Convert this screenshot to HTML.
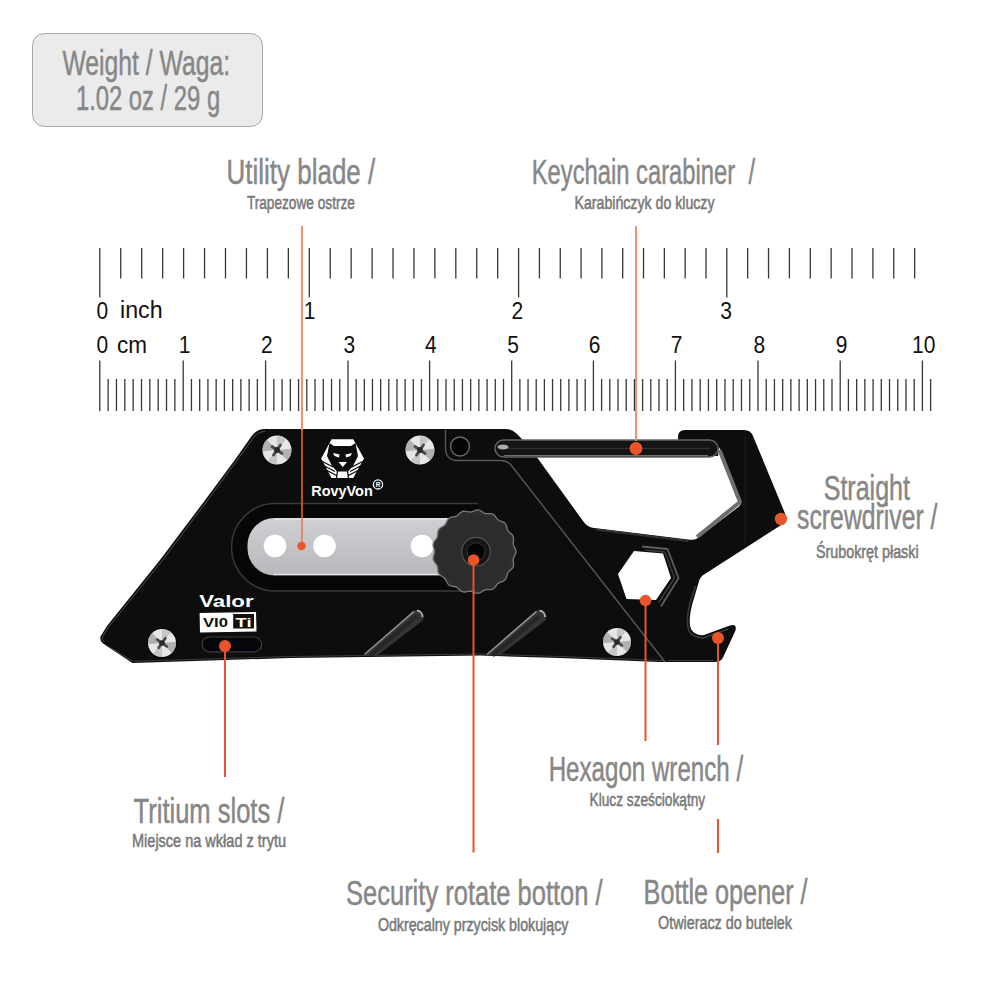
<!DOCTYPE html>
<html><head><meta charset="utf-8"><style>
html,body{margin:0;padding:0;background:#fff;width:1000px;height:1000px;overflow:hidden}
svg{display:block}
text{font-family:"Liberation Sans", sans-serif}
</style></head><body>
<svg width="1000" height="1000" viewBox="0 0 1000 1000">
<rect x="32.5" y="33.5" width="230" height="93" rx="12" ry="12" fill="#ebebeb" stroke="#a6a6a6" stroke-width="1"/>
<text x="62.4" y="74.6" font-size="35" fill="#878787" stroke="#878787" stroke-width="0.5" font-weight="normal" textLength="167.6" lengthAdjust="spacingAndGlyphs" >Weight / Waga:</text>
<text x="75.9" y="109.7" font-size="35" fill="#878787" stroke="#878787" stroke-width="0.5" font-weight="normal" textLength="144.29999999999998" lengthAdjust="spacingAndGlyphs" >1.02 oz / 29 g</text>
<text x="226.6" y="184.2" font-size="34.5" fill="#878787" stroke="#878787" stroke-width="0.5" font-weight="normal" textLength="148.6" lengthAdjust="spacingAndGlyphs" >Utility blade /</text>
<text x="246.9" y="209.4" font-size="19" fill="#787878" stroke="#787878" stroke-width="0.55" font-weight="normal" textLength="107.99999999999997" lengthAdjust="spacingAndGlyphs" >Trapezowe ostrze</text>
<text x="531.75" y="184.25" font-size="34.5" fill="#878787" stroke="#878787" stroke-width="0.5" font-weight="normal" textLength="223.25" lengthAdjust="spacingAndGlyphs" xml:space="preserve">Keychain carabiner&#160;&#160;/</text>
<text x="574.5" y="209.25" font-size="19" fill="#787878" stroke="#787878" stroke-width="0.55" font-weight="normal" textLength="140.0" lengthAdjust="spacingAndGlyphs" >Karabińczyk do kluczy</text>
<text x="823.7" y="500.2" font-size="34.5" fill="#878787" stroke="#878787" stroke-width="0.5" font-weight="normal" textLength="86.29999999999995" lengthAdjust="spacingAndGlyphs" >Straight</text>
<text x="797.1" y="529.4" font-size="34.5" fill="#878787" stroke="#878787" stroke-width="0.5" font-weight="normal" textLength="140.39999999999998" lengthAdjust="spacingAndGlyphs" >screwdriver /</text>
<text x="816" y="558.2" font-size="19" fill="#787878" stroke="#787878" stroke-width="0.55" font-weight="normal" textLength="102.60000000000002" lengthAdjust="spacingAndGlyphs" >Śrubokręt płaski</text>
<text x="548.7" y="781.3" font-size="34.5" fill="#878787" stroke="#878787" stroke-width="0.5" font-weight="normal" textLength="194.39999999999998" lengthAdjust="spacingAndGlyphs" >Hexagon wrench /</text>
<text x="589.5" y="806" font-size="19" fill="#787878" stroke="#787878" stroke-width="0.55" font-weight="normal" textLength="115.70000000000005" lengthAdjust="spacingAndGlyphs" >Klucz sześciokątny</text>
<text x="133.6" y="823" font-size="34.5" fill="#878787" stroke="#878787" stroke-width="0.5" font-weight="normal" textLength="150.79999999999998" lengthAdjust="spacingAndGlyphs" >Tritium slots /</text>
<text x="132" y="847" font-size="19" fill="#787878" stroke="#787878" stroke-width="0.55" font-weight="normal" textLength="154" lengthAdjust="spacingAndGlyphs" >Miejsce na wkład z trytu</text>
<text x="346" y="905" font-size="34.5" fill="#878787" stroke="#878787" stroke-width="0.5" font-weight="normal" textLength="256.6" lengthAdjust="spacingAndGlyphs" >Security rotate botton /</text>
<text x="377.9" y="931" font-size="19" fill="#787878" stroke="#787878" stroke-width="0.55" font-weight="normal" textLength="190.5" lengthAdjust="spacingAndGlyphs" >Odkręcalny przycisk blokujący</text>
<text x="643.6" y="904" font-size="34.5" fill="#878787" stroke="#878787" stroke-width="0.5" font-weight="normal" textLength="164.0" lengthAdjust="spacingAndGlyphs" >Bottle opener /</text>
<text x="658" y="929" font-size="19" fill="#787878" stroke="#787878" stroke-width="0.55" font-weight="normal" textLength="134" lengthAdjust="spacingAndGlyphs" >Otwieracz do butelek</text>
<path d="M99.80 248V297.5 M120.75 248V278.5 M141.70 248V278.5 M162.65 248V278.5 M183.60 248V278.5 M204.55 248V278.5 M225.50 248V278.5 M246.45 248V278.5 M267.40 248V278.5 M288.35 248V278.5 M309.30 248V297.5 M330.23 248V278.5 M351.16 248V278.5 M372.09 248V278.5 M393.02 248V278.5 M413.95 248V278.5 M434.88 248V278.5 M455.81 248V278.5 M476.74 248V278.5 M497.67 248V278.5 M518.60 248V297.5 M539.42 248V278.5 M560.24 248V278.5 M581.06 248V278.5 M601.88 248V278.5 M622.70 248V278.5 M643.52 248V278.5 M664.34 248V278.5 M685.16 248V278.5 M705.98 248V278.5 M726.80 248V297.5 M747.67 248V278.5 M768.54 248V278.5 M789.41 248V278.5 M810.28 248V278.5 M831.15 248V278.5 M852.02 248V278.5 M872.89 248V278.5 M893.76 248V278.5 M914.63 248V278.5 M99.80 360.5V411 M108.14 379V411 M116.48 379V411 M124.82 379V411 M133.16 379V411 M141.50 379V411 M149.84 379V411 M158.18 379V411 M166.52 379V411 M174.86 379V411 M183.20 360.5V411 M191.44 379V411 M199.68 379V411 M207.92 379V411 M216.16 379V411 M224.40 379V411 M232.64 379V411 M240.88 379V411 M249.12 379V411 M257.36 379V411 M265.60 360.5V411 M273.84 379V411 M282.08 379V411 M290.32 379V411 M298.56 379V411 M306.80 379V411 M315.04 379V411 M323.28 379V411 M331.52 379V411 M339.76 379V411 M348.00 360.5V411 M356.16 379V411 M364.32 379V411 M372.48 379V411 M380.64 379V411 M388.80 379V411 M396.96 379V411 M405.12 379V411 M413.28 379V411 M421.44 379V411 M429.60 360.5V411 M437.81 379V411 M446.02 379V411 M454.23 379V411 M462.44 379V411 M470.65 379V411 M478.86 379V411 M487.07 379V411 M495.28 379V411 M503.49 379V411 M511.70 360.5V411 M519.87 379V411 M528.04 379V411 M536.21 379V411 M544.38 379V411 M552.55 379V411 M560.72 379V411 M568.89 379V411 M577.06 379V411 M585.23 379V411 M593.40 360.5V411 M601.60 379V411 M609.80 379V411 M618.00 379V411 M626.20 379V411 M634.40 379V411 M642.60 379V411 M650.80 379V411 M659.00 379V411 M667.20 379V411 M675.40 360.5V411 M683.66 379V411 M691.92 379V411 M700.18 379V411 M708.44 379V411 M716.70 379V411 M724.96 379V411 M733.22 379V411 M741.48 379V411 M749.74 379V411 M758.00 360.5V411 M766.22 379V411 M774.44 379V411 M782.66 379V411 M790.88 379V411 M799.10 379V411 M807.32 379V411 M815.54 379V411 M823.76 379V411 M831.98 379V411 M840.20 360.5V411 M848.42 379V411 M856.64 379V411 M864.86 379V411 M873.08 379V411 M881.30 379V411 M889.52 379V411 M897.74 379V411 M905.96 379V411 M914.18 379V411 M922.40 360.5V411 M930.62 379V411" stroke="#383838" stroke-width="1.3" fill="none"/>
<text transform="translate(96.6,319) scale(1,1.13)" font-size="21" fill="#111" text-anchor="start">0</text>
<text transform="translate(120,318) scale(1,1.13)" font-size="21" fill="#111" text-anchor="start" textLength="42.6" lengthAdjust="spacingAndGlyphs">inch</text>
<text transform="translate(309.5,319) scale(1,1.13)" font-size="21" fill="#111" text-anchor="middle">1</text>
<text transform="translate(517.3,319) scale(1,1.13)" font-size="21" fill="#111" text-anchor="middle">2</text>
<text transform="translate(726.2,319) scale(1,1.13)" font-size="21" fill="#111" text-anchor="middle">3</text>
<text transform="translate(96.6,352.6) scale(1,1.13)" font-size="21" fill="#111" text-anchor="start">0</text>
<text transform="translate(117,352.6) scale(1,1.13)" font-size="21" fill="#111" text-anchor="start" textLength="30" lengthAdjust="spacingAndGlyphs">cm</text>
<text transform="translate(184.5,352.6) scale(1,1.13)" font-size="21" fill="#111" text-anchor="middle">1</text>
<text transform="translate(266.9,352.6) scale(1,1.13)" font-size="21" fill="#111" text-anchor="middle">2</text>
<text transform="translate(349.3,352.6) scale(1,1.13)" font-size="21" fill="#111" text-anchor="middle">3</text>
<text transform="translate(430.9,352.6) scale(1,1.13)" font-size="21" fill="#111" text-anchor="middle">4</text>
<text transform="translate(513.0,352.6) scale(1,1.13)" font-size="21" fill="#111" text-anchor="middle">5</text>
<text transform="translate(594.7,352.6) scale(1,1.13)" font-size="21" fill="#111" text-anchor="middle">6</text>
<text transform="translate(676.7,352.6) scale(1,1.13)" font-size="21" fill="#111" text-anchor="middle">7</text>
<text transform="translate(759.3,352.6) scale(1,1.13)" font-size="21" fill="#111" text-anchor="middle">8</text>
<text transform="translate(841.5,352.6) scale(1,1.13)" font-size="21" fill="#111" text-anchor="middle">9</text>
<text transform="translate(923.7,352.6) scale(1,1.13)" font-size="21" fill="#111" text-anchor="middle">10</text>
<defs>
  <radialGradient id="screw" cx="0.45" cy="0.4" r="0.6">
    <stop offset="0" stop-color="#f4f4f4"/>
    <stop offset="0.6" stop-color="#c9c9c9"/>
    <stop offset="1" stop-color="#8a8a8a"/>
  </radialGradient>
  <linearGradient id="blade" x1="0" y1="0" x2="0" y2="1">
    <stop offset="0" stop-color="#d0d0d4"/>
    <stop offset="0.5" stop-color="#c4c4c8"/>
    <stop offset="1" stop-color="#b8b8bc"/>
  </linearGradient>
</defs>
<path fill="#0d0d0d" d="
M251 437 Q256 429 265 429 L506 429 Q512 429 517 434 L524 441 L678 441 L678 437 Q678 430 685 430 L744 430 Q751 430 753 436
L784 511 Q788 519 782 524.5 L702.5 575.5 Q699.5 578 698.5 583 L692 605 Q688 622 691 629 Q695 636 704 635 L730 625.5 Q737 623 735.5 630.5 L723 657.5 Q721 662 714 662
L660 662 L560 658 L480 655.5 L290 658 L132.5 663 L103 643.5 Q99.5 641 100.5 636.5 L107 626 L160 560 L205.2 500 L234.8 460 Z"/>
<path fill="#ffffff" d="M536 456 L718 456 L719 447 L740.5 501 Q741.5 504 739 506.5 L697 538.5 Q694 540.5 688 539.5 L594 528 Q587 527 583 521 Z"/>
<path fill="none" stroke="#6e6e6e" stroke-width="4" stroke-linejoin="round" d="M719.5 450 L740 502 L697 537"/>
<path fill="none" stroke="#333" stroke-width="2" d="M596 529.5 L688 541"/>
<path fill="none" stroke="#1e1e1e" stroke-width="1" d="M745 436 V545"/>

<path fill="none" stroke="#505050" stroke-width="1" d="M104 642 Q101.5 640 102.5 636.5 L108.5 627 L162 561 L207 501 L236.5 461 L252.5 439 Q257 431.5 265 431.5"/>
<path fill="none" stroke="#404040" stroke-width="1" d="M105 644.5 L133.5 661.5"/>
<path fill="none" stroke="#3c3c3c" stroke-width="1" d="M134 661.3 L290 656.5 L480 654 L560 656.5 L663 660.5 M668 660.5 L714 660.5"/>
<path fill="none" stroke="#5a5a5a" stroke-width="1.3" d="M445.5 430 V448 Q445.5 460.5 458 460.5 L500 460.5 Q507 460.5 511 465 L665 662"/>
<path d="M478 503.5 H275.25 A43.75 43.75 0 0 0 275.25 591 H478" fill="#070707" stroke="#3a3a3a" stroke-width="1.5"/>
<rect x="247.5" y="518" width="230" height="57.5" rx="27" fill="url(#blade)"/>
<path d="M274 519.2 H478 M274 574.3 H478" stroke="#e6e6e6" stroke-width="1.2" fill="none"/>
<circle cx="275" cy="546" r="11.3" fill="#ffffff"/>
<circle cx="324.5" cy="546" r="11.3" fill="#ffffff"/>
<circle cx="422" cy="546" r="11.3" fill="#ffffff"/>
<polygon points="516.00,551.60 515.95,552.33 515.80,553.05 515.57,553.77 515.27,554.47 514.93,555.16 514.57,555.84 514.21,556.51 513.89,557.18 513.62,557.84 513.41,558.51 513.28,559.20 513.21,559.89 513.22,560.61 513.27,561.34 513.36,562.09 513.45,562.86 513.53,563.62 513.56,564.39 513.53,565.14 513.42,565.88 513.22,566.58 512.93,567.25 512.55,567.88 512.08,568.47 511.56,569.02 511.00,569.55 510.41,570.05 509.84,570.55 509.29,571.05 508.78,571.57 508.34,572.11 507.95,572.69 507.63,573.31 507.37,573.97 507.15,574.67 506.96,575.40 506.77,576.14 506.57,576.89 506.33,577.62 506.04,578.32 505.69,578.97 505.26,579.57 504.76,580.10 504.18,580.56 503.55,580.95 502.87,581.29 502.16,581.58 501.43,581.84 500.71,582.10 500.01,582.36 499.35,582.66 498.73,582.99 498.15,583.39 497.62,583.84 497.13,584.35 496.67,584.91 496.23,585.52 495.78,586.14 495.33,586.77 494.85,587.37 494.33,587.92 493.78,588.42 493.17,588.83 492.52,589.16 491.83,589.40 491.10,589.55 490.34,589.63 489.57,589.65 488.80,589.64 488.04,589.62 487.29,589.61 486.56,589.63 485.85,589.71 485.17,589.86 484.51,590.08 483.87,590.37 483.23,590.72 482.60,591.11 481.96,591.53 481.31,591.95 480.65,592.35 479.97,592.69 479.28,592.96 478.57,593.15 477.84,593.24 477.11,593.23 476.38,593.12 475.64,592.93 474.92,592.69 474.20,592.40 473.49,592.10 472.80,591.82 472.11,591.57 471.42,591.38 470.73,591.25 470.04,591.20 469.33,591.23 468.62,591.32 467.89,591.45 467.15,591.61 466.39,591.77 465.63,591.91 464.87,591.99 464.12,592.01 463.39,591.94 462.68,591.78 461.99,591.52 461.34,591.17 460.72,590.75 460.13,590.26 459.56,589.74 459.01,589.20 458.46,588.68 457.91,588.19 457.34,587.76 456.75,587.38 456.13,587.07 455.47,586.83 454.77,586.64 454.05,586.50 453.30,586.38 452.54,586.26 451.78,586.12 451.04,585.94 450.33,585.69 449.66,585.38 449.04,584.98 448.49,584.51 448.00,583.96 447.56,583.35 447.18,582.69 446.83,582.00 446.50,581.30 446.18,580.61 445.85,579.95 445.49,579.33 445.08,578.76 444.62,578.24 444.10,577.76 443.53,577.33 442.92,576.93 442.27,576.55 441.60,576.16 440.94,575.76 440.31,575.33 439.72,574.86 439.20,574.33 438.75,573.75 438.39,573.12 438.12,572.43 437.92,571.71 437.79,570.96 437.71,570.19 437.65,569.42 437.61,568.66 437.54,567.92 437.43,567.21 437.27,566.52 437.04,565.86 436.74,565.23 436.38,564.62 435.96,564.03 435.49,563.43 435.01,562.84 434.54,562.23 434.10,561.60 433.71,560.95 433.40,560.27 433.18,559.57 433.05,558.86 433.02,558.12 433.08,557.38 433.22,556.63 433.42,555.89 433.64,555.15 433.87,554.42 434.08,553.70 434.25,552.99 434.36,552.30 434.40,551.60 434.36,550.90 434.25,550.21 434.08,549.50 433.87,548.78 433.64,548.05 433.42,547.31 433.22,546.57 433.08,545.82 433.02,545.08 433.05,544.34 433.18,543.63 433.40,542.93 433.71,542.25 434.10,541.60 434.54,540.97 435.01,540.36 435.49,539.77 435.96,539.17 436.38,538.58 436.74,537.97 437.04,537.34 437.27,536.68 437.43,535.99 437.54,535.28 437.61,534.54 437.65,533.78 437.71,533.01 437.79,532.24 437.92,531.49 438.12,530.77 438.39,530.08 438.75,529.45 439.20,528.87 439.72,528.34 440.31,527.87 440.94,527.44 441.60,527.04 442.27,526.65 442.92,526.27 443.53,525.87 444.10,525.44 444.62,524.96 445.08,524.44 445.49,523.87 445.85,523.25 446.18,522.59 446.50,521.90 446.83,521.20 447.18,520.51 447.56,519.85 448.00,519.24 448.49,518.69 449.04,518.22 449.66,517.82 450.33,517.51 451.04,517.26 451.78,517.08 452.54,516.94 453.30,516.82 454.05,516.70 454.77,516.56 455.47,516.37 456.13,516.13 456.75,515.82 457.34,515.44 457.91,515.01 458.46,514.52 459.01,514.00 459.56,513.46 460.13,512.94 460.72,512.45 461.34,512.03 461.99,511.68 462.68,511.42 463.39,511.26 464.12,511.19 464.87,511.21 465.63,511.29 466.39,511.43 467.15,511.59 467.89,511.75 468.62,511.88 469.33,511.97 470.04,512.00 470.73,511.95 471.42,511.82 472.11,511.63 472.80,511.38 473.49,511.10 474.20,510.80 474.92,510.51 475.64,510.27 476.38,510.08 477.11,509.97 477.84,509.96 478.57,510.05 479.28,510.24 479.97,510.51 480.65,510.85 481.31,511.25 481.96,511.67 482.60,512.09 483.23,512.48 483.87,512.83 484.51,513.12 485.17,513.34 485.85,513.49 486.56,513.57 487.29,513.59 488.04,513.58 488.80,513.56 489.57,513.55 490.34,513.57 491.10,513.65 491.83,513.80 492.52,514.04 493.17,514.37 493.78,514.78 494.33,515.28 494.85,515.83 495.33,516.43 495.78,517.06 496.23,517.68 496.67,518.29 497.13,518.85 497.62,519.36 498.15,519.81 498.73,520.21 499.35,520.54 500.01,520.84 500.71,521.10 501.43,521.36 502.16,521.62 502.87,521.91 503.55,522.25 504.18,522.64 504.76,523.10 505.26,523.63 505.69,524.23 506.04,524.88 506.33,525.58 506.57,526.31 506.77,527.06 506.96,527.80 507.15,528.53 507.37,529.23 507.63,529.89 507.95,530.51 508.34,531.09 508.78,531.63 509.29,532.15 509.84,532.65 510.41,533.15 511.00,533.65 511.56,534.18 512.08,534.73 512.55,535.32 512.93,535.95 513.22,536.62 513.42,537.32 513.53,538.06 513.56,538.81 513.53,539.58 513.45,540.34 513.36,541.11 513.27,541.86 513.22,542.59 513.21,543.31 513.28,544.00 513.41,544.69 513.62,545.36 513.89,546.02 514.21,546.69 514.57,547.36 514.93,548.04 515.27,548.73 515.57,549.43 515.80,550.15 515.95,550.87" fill="#2e2e2e" stroke="#7a7a7a" stroke-width="1.3"/>
<circle cx="474.2" cy="551.6" r="37" fill="#2c2c2c"/>
<circle cx="476" cy="551.7" r="14.3" fill="#161616" stroke="#555" stroke-width="1.2"/>
<circle cx="476" cy="551.7" r="9" fill="#050505" stroke="#333" stroke-width="1"/>
<path d="M363.7 655.5 L413.5 611 A6.6 6.6 0 0 1 421.5 621.5 L377 655.5 Z" fill="#343434"/>
<path d="M370 655.5 L417 616" stroke="#262626" stroke-width="4" fill="none"/>
<path d="M365 654 L413.5 611.8" stroke="#909090" stroke-width="1.6" stroke-linecap="round" fill="none"/>
<path d="M417 610.5 A6.6 6.6 0 0 1 422.5 617" stroke="#c0c0c0" stroke-width="1.6" fill="none"/>
<path d="M486.2 655.5 L536.0 611 A6.6 6.6 0 0 1 544.0 621.5 L499.5 655.5 Z" fill="#343434"/>
<path d="M492.5 655.5 L539.5 616" stroke="#262626" stroke-width="4" fill="none"/>
<path d="M487.5 654 L536.0 611.8" stroke="#909090" stroke-width="1.6" stroke-linecap="round" fill="none"/>
<path d="M539.5 610.5 A6.6 6.6 0 0 1 545.0 617" stroke="#c0c0c0" stroke-width="1.6" fill="none"/>
<path fill="none" stroke="#5e5e5e" stroke-width="1.8" stroke-linejoin="round" d="M642 546.5 L667.5 549 L678.5 578 L661 606.5"/>
<path fill="none" stroke="#3a3a3a" stroke-width="1.5" stroke-linejoin="round" d="M645 550 L665 552 L674.5 578 L658.5 603"/>
<path fill="#ffffff" d="M634 551 L663 553.5 L671 578 L656 600 L626.5 599 L618 574 Z"/>
<path fill="none" stroke="#3a3a3a" stroke-width="1.6" d="M695.5 586 L689.5 605 Q685.5 623 689 631 Q694 638.5 704 637.8 L728 629"/>
<circle cx="460" cy="446.5" r="9.5" fill="#050505" stroke="#6a6a6a" stroke-width="1.3"/>
<circle cx="277" cy="450" r="15.5" fill="#050505"/>
<circle cx="277" cy="450" r="14.5" fill="#e6e6e6"/>
<path d="M277 450 L262.56 451.26 A14.5 14.5 0 0 1 266.75 439.75 Z" fill="#9a9a9a" opacity="0.7"/>
<path d="M277 450 L291.44 448.74 A14.5 14.5 0 0 1 287.25 460.25 Z" fill="#9a9a9a" opacity="0.7"/>
<path d="M277 450 L277.00 464.50 A14.5 14.5 0 0 1 267.68 461.11 Z" fill="#b0b0b0" opacity="0.6"/>
<path d="M277 450 L277.00 435.50 A14.5 14.5 0 0 1 286.32 438.89 Z" fill="#b0b0b0" opacity="0.6"/>
<g transform="translate(277,450) rotate(35)"><path d="M-6.09 0H6.09M0 -6.09V6.09" stroke="#4a4a4a" stroke-width="2.90" stroke-linecap="round"/></g>
<circle cx="277" cy="450" r="2.90" fill="#2a2a2a"/>
<circle cx="420" cy="450" r="15.5" fill="#050505"/>
<circle cx="420" cy="450" r="14.5" fill="#e6e6e6"/>
<path d="M420 450 L405.56 451.26 A14.5 14.5 0 0 1 409.75 439.75 Z" fill="#9a9a9a" opacity="0.7"/>
<path d="M420 450 L434.44 448.74 A14.5 14.5 0 0 1 430.25 460.25 Z" fill="#9a9a9a" opacity="0.7"/>
<path d="M420 450 L420.00 464.50 A14.5 14.5 0 0 1 410.68 461.11 Z" fill="#b0b0b0" opacity="0.6"/>
<path d="M420 450 L420.00 435.50 A14.5 14.5 0 0 1 429.32 438.89 Z" fill="#b0b0b0" opacity="0.6"/>
<g transform="translate(420,450) rotate(35)"><path d="M-6.09 0H6.09M0 -6.09V6.09" stroke="#4a4a4a" stroke-width="2.90" stroke-linecap="round"/></g>
<circle cx="420" cy="450" r="2.90" fill="#2a2a2a"/>
<circle cx="162" cy="643" r="15" fill="#050505"/>
<circle cx="162" cy="643" r="14" fill="#e6e6e6"/>
<path d="M162 643 L148.05 644.22 A14 14 0 0 1 152.10 633.10 Z" fill="#9a9a9a" opacity="0.7"/>
<path d="M162 643 L175.95 641.78 A14 14 0 0 1 171.90 652.90 Z" fill="#9a9a9a" opacity="0.7"/>
<path d="M162 643 L162.00 657.00 A14 14 0 0 1 153.00 653.72 Z" fill="#b0b0b0" opacity="0.6"/>
<path d="M162 643 L162.00 629.00 A14 14 0 0 1 171.00 632.28 Z" fill="#b0b0b0" opacity="0.6"/>
<g transform="translate(162,643) rotate(35)"><path d="M-5.88 0H5.88M0 -5.88V5.88" stroke="#4a4a4a" stroke-width="2.80" stroke-linecap="round"/></g>
<circle cx="162" cy="643" r="2.80" fill="#2a2a2a"/>
<circle cx="617" cy="642" r="15" fill="#050505"/>
<circle cx="617" cy="642" r="14" fill="#e6e6e6"/>
<path d="M617 642 L603.05 643.22 A14 14 0 0 1 607.10 632.10 Z" fill="#9a9a9a" opacity="0.7"/>
<path d="M617 642 L630.95 640.78 A14 14 0 0 1 626.90 651.90 Z" fill="#9a9a9a" opacity="0.7"/>
<path d="M617 642 L617.00 656.00 A14 14 0 0 1 608.00 652.72 Z" fill="#b0b0b0" opacity="0.6"/>
<path d="M617 642 L617.00 628.00 A14 14 0 0 1 626.00 631.28 Z" fill="#b0b0b0" opacity="0.6"/>
<g transform="translate(617,642) rotate(35)"><path d="M-5.88 0H5.88M0 -5.88V5.88" stroke="#4a4a4a" stroke-width="2.80" stroke-linecap="round"/></g>
<circle cx="617" cy="642" r="2.80" fill="#2a2a2a"/>
<polygon fill="#fff" points="331.6,439.2 353.2,439.2 364,458.4 353.2,478 331.6,478 321.2,458.4"/>
<polygon fill="#0d0d0d" points="329.5,443 334,446 351,446 355.5,443 358,456 353,466 348,471.5 337,471.5 332,466 327,456"/>
<path fill="#fff" d="M333 453 L339.5 454.5 L339 457.5 L334.5 456 Z M352 453 L345.5 454.5 L346 457.5 L350.5 456 Z M338.5 462 L347 462 L342.8 467 Z"/>
<path stroke="#0d0d0d" stroke-width="1.3" fill="none" d="M337.5 471 L336.5 478.5 M347.5 471 L348.5 478.5 M322.5 461.5 L333 467 M324.5 466 L335 471.5 M327 470.5 L336.5 475.5 M362.5 461.5 L352 467 M360.5 466 L350 471.5 M358 470.5 L348.5 475.5"/>
<text x="311.2" y="495.6" font-size="15.5" font-weight="bold" fill="#fff" textLength="61.6" lengthAdjust="spacingAndGlyphs">RovyVon</text>
<circle cx="378" cy="484.4" r="4.6" fill="none" stroke="#fff" stroke-width="1.3"/>
<text x="378" y="486.8" font-size="6.5" font-weight="bold" fill="#fff" text-anchor="middle">R</text>
<text x="199.2" y="607" font-size="16.5" font-weight="bold" fill="#fff" textLength="54.4" lengthAdjust="spacingAndGlyphs">Valor</text>
<polygon fill="#fff" points="199.6,613 256,612 256.5,631.5 200,632.5"/>
<text x="203" y="627" font-size="13" font-weight="bold" fill="#111" textLength="25" lengthAdjust="spacingAndGlyphs">VI0</text>
<rect x="233.2" y="614" width="20.8" height="14.5" fill="#111"/>
<text x="235.5" y="626.5" font-size="13" font-weight="bold" fill="#fff" textLength="16" lengthAdjust="spacingAndGlyphs">Ti</text>
<rect x="202" y="637" width="59.6" height="14.8" rx="7.4" fill="#05050c" stroke="#3e3e3e" stroke-width="1.2"/>
<rect x="495" y="440" width="223" height="17" rx="8.5" fill="#141414" stroke="#666666" stroke-width="1.4"/>
<path fill="none" stroke="#2e2e2e" stroke-width="1.5" d="M503 448.5 L710 448.5"/>
<path fill="none" stroke="#707070" stroke-width="1.2" d="M504 455.5 L708 455.5"/>
<ellipse cx="503" cy="447" rx="5.5" ry="2.5" fill="#c8c8c8" opacity="0.85"/>
<path d="M302 226 V430" stroke="#f0906c" stroke-width="2"/>
<path d="M302 430 V518" stroke="#d4542a" stroke-width="1.8"/>
<path d="M302 518 V546" stroke="#e07a5a" stroke-width="1.6"/>
<path d="M636 226 V441" stroke="#f0906c" stroke-width="2"/>
<path d="M645.5 600 V741" stroke="#e9552a" stroke-width="2"/>
<path d="M718 638 V745 M718 819 V853" stroke="#e9552a" stroke-width="2"/>
<path d="M225 646 V777" stroke="#e9552a" stroke-width="2"/>
<path d="M473.5 560 V852.5" stroke="#e9552a" stroke-width="2"/>
<circle cx="301.5" cy="546" r="4.2" fill="#e9552a"/>
<circle cx="636" cy="448.5" r="6.5" fill="#e9552a"/>
<circle cx="781" cy="519" r="6.2" fill="#e9552a"/>
<circle cx="645.5" cy="600.5" r="5.8" fill="#e9552a"/>
<circle cx="718" cy="638" r="6" fill="#e9552a"/>
<circle cx="225" cy="646" r="6" fill="#e9552a"/>
<circle cx="473.6" cy="560" r="5.8" fill="#e9552a"/>
</svg>
</body></html>
